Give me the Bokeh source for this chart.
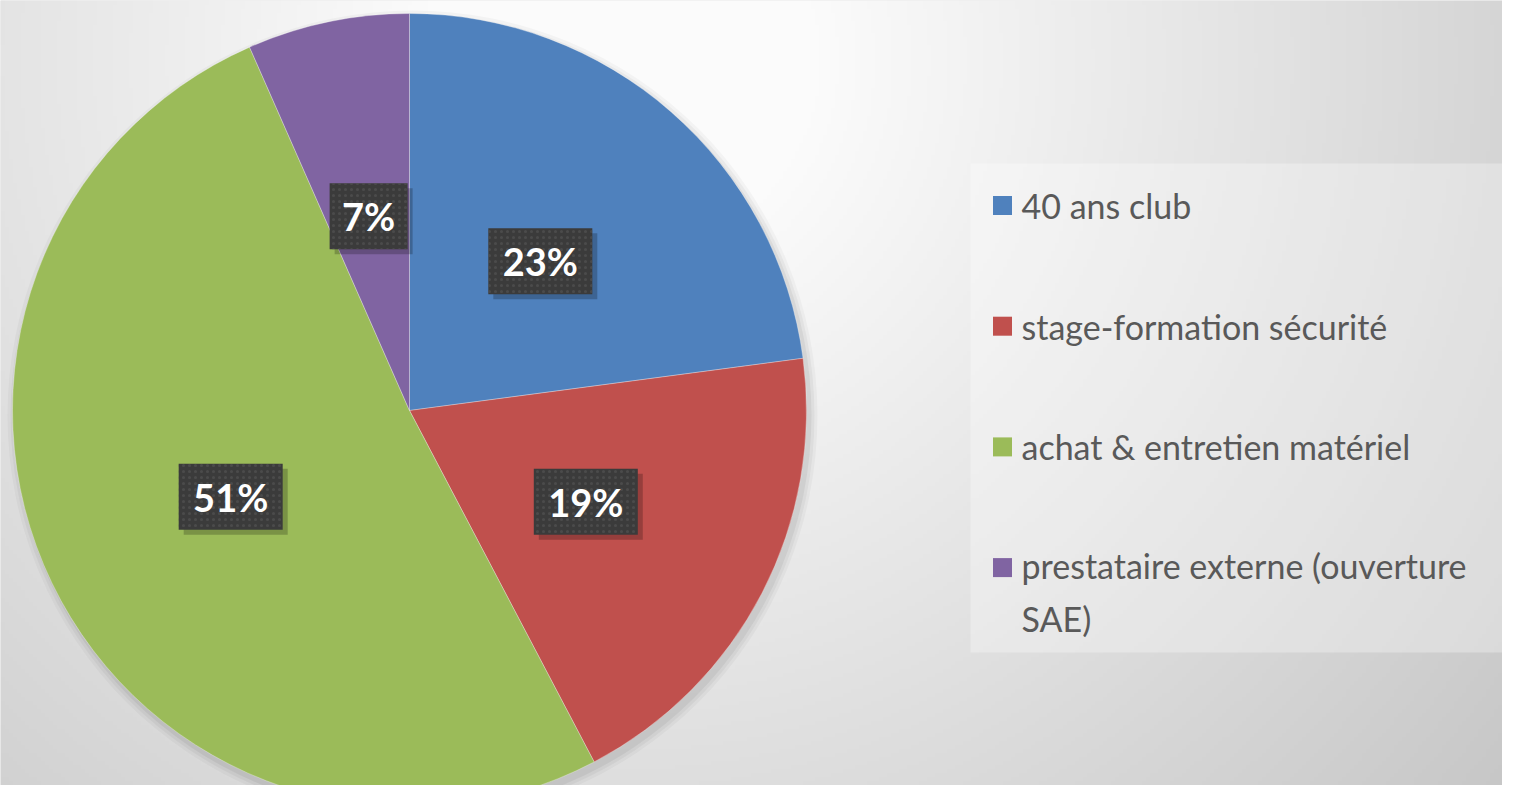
import numpy as np
from bokeh.plotting import figure
from bokeh.models import Range1d, ColumnDataSource
from bokeh.core.properties import value
from bokeh.embed import file_html
from bokeh.resources import INLINE

# ---- data ----
categories = ["40 ans club", "stage-formation sécurité",
              "achat & entretien matériel", "prestataire externe (ouverture\nSAE)"]
shares = [22.9, 19.4, 51.1, 6.6]
colors = ["#4F81BD", "#C0504D", "#9BBB59", "#8064A2"]

# ---- layout constants (pixel space, y up; image y = 801 - data y) ----
W, H = 1502, 785
X0, Y0 = 0, 16
CX, CY, R = 409, 801 - 410, 397

p = figure(width=W, height=H, x_range=Range1d(X0, X0 + W), y_range=Range1d(Y0, Y0 + H),
           output_backend="svg", toolbar_location=None, x_axis_type=None, y_axis_type=None,
           min_border=0, min_border_left=0, min_border_right=0, min_border_top=0,
           min_border_bottom=0, outline_line_color=None,
           background_fill_color="#e0e0e0", border_fill_color="#e0e0e0")
p.grid.visible = False

# ---- radial grey background ----
gw, gh = 376, 197
xs = X0 + (np.arange(gw) + 0.5) * W / gw
ys = Y0 + (np.arange(gh) + 0.5) * H / gh
XX, YY = np.meshgrid(xs, ys)
d = np.hypot(XX - 620, (801 - YY) - 60)
c = np.clip(262 - 0.055 * d, 0, 251).astype(np.uint8)
img = np.empty((gh, gw), dtype=np.uint32)
view = img.view(dtype=np.uint8).reshape((gh, gw, 4))
view[..., 0] = c
view[..., 1] = c
view[..., 2] = c
view[..., 3] = 255
p.image_rgba(image=[img], x=X0, y=Y0, dw=W, dh=H)

# ---- pie shadow ----
for k, a in [(8, 0.03), (5, 0.04), (2, 0.05)]:
    p.circle(x=CX + 3, y=CY - 5, radius=R + k, fill_color="black", fill_alpha=a, line_color=None)

# ---- wedges ----
fr = np.array(shares) / sum(shares)
cum = np.concatenate([[0], np.cumsum(fr)])
ang = np.pi / 2 - 2 * np.pi * cum
starts = ang[1:]
ends = ang[:-1]
mids = (starts + ends) / 2
src = ColumnDataSource(dict(start=starts, end=ends, color=colors, cat=categories))
wr = p.wedge(x=CX, y=CY, radius=R, start_angle="start", end_angle="end", direction="anticlock",
             fill_color="color", line_color="white", line_alpha=0.3, line_width=1, source=src)

# ---- data labels ----
labels = [f"{round(s)}%" for s in shares]
lx = CX + 0.5 * R * np.cos(mids)
ly = CY + 0.5 * R * np.sin(mids)
bw = [26 * (len(t) + 1) for t in labels]
lsrc = ColumnDataSource(dict(x=lx, y=ly, xs=lx + 5, ys=ly - 5, w=bw, t=labels))
p.rect(x="xs", y="ys", width="w", height=66, width_units="screen", height_units="screen",
       fill_color="black", fill_alpha=0.22, line_color=None, source=lsrc)
p.rect(x="x", y="y", width="w", height=66, width_units="screen", height_units="screen",
       fill_color="#3b3b3b", line_color=None, hatch_pattern="dot", hatch_color="#555555",
       hatch_scale=6, hatch_alpha=0.6, source=lsrc)
p.text(x="x", y="y", text="t", text_font=value("Lato"), text_font_size="38px",
       text_font_style="bold", text_color="white", text_align="center",
       text_baseline="middle", source=lsrc)

# ---- legend (box, swatches, labels) ----
p.quad(left=970, right=1530, bottom=801 - 652, top=801 - 163,
       fill_color="white", fill_alpha=0.3, line_color=None)

row_y = np.array([801 - 205 - 120.7 * i for i in range(len(categories))])
n_lines = np.array([cat.count("\n") + 1 for cat in categories])
text_y = row_y - (n_lines - 1) * 24.5
leg = ColumnDataSource(dict(x=[1002] * len(categories), y=row_y, ty=text_y,
                            tx=[1021] * len(categories), color=colors, label=categories))
p.scatter(x="x", y="y", marker="square", size=19, fill_color="color", line_color=None, source=leg)
p.text(x="tx", y="ty", text="label", text_font=value("Lato"), text_font_size="34px",
       text_color="#595959", text_align="left", text_baseline="middle",
       text_line_height=1.28, source=leg)

open("out.html", "w").write(file_html(p, INLINE))
